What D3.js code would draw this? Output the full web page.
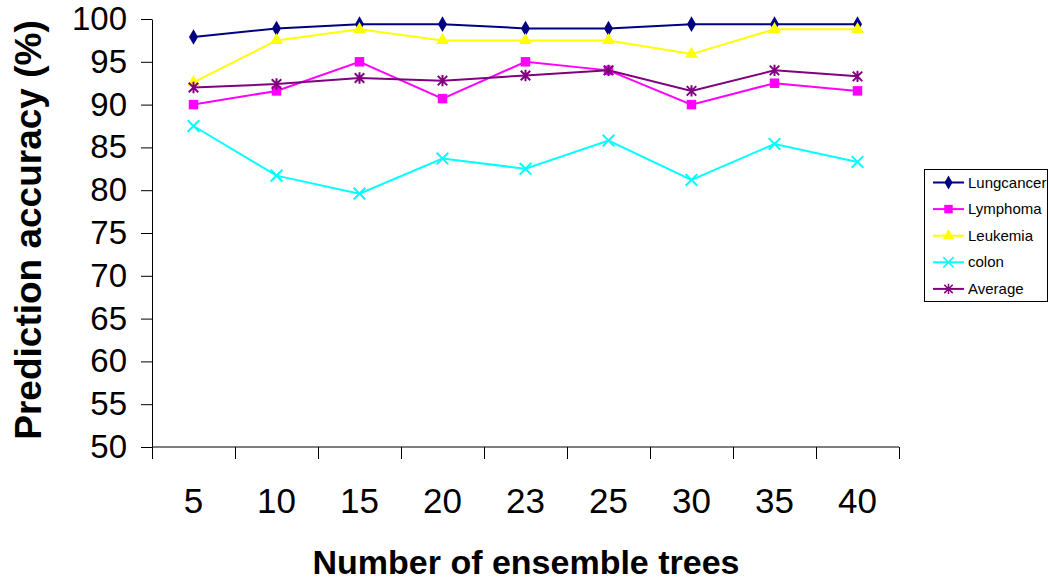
<!DOCTYPE html>
<html>
<head>
<meta charset="utf-8">
<script src="https://cdn.jsdelivr.net/npm/d3@7"></script>
<style>
  html, body { margin: 0; padding: 0; background: #fff; }
  svg { display: block; font-family: "Liberation Sans", Arial, sans-serif; }
</style>
</head>
<body>
<div id="chart"></div>
<script>
const categories = ['5', '10', '15', '20', '23', '25', '30', '35', '40'];
const lungcancer = [97.9, 98.9, 99.4, 99.4, 98.9, 98.9, 99.4, 99.4, 99.4];
const lymphoma = [90.0, 91.6, 95.0, 90.7, 95.0, 94.0, 90.0, 92.5, 91.6];
const leukemia = [92.6, 97.5, 98.8, 97.5, 97.5, 97.5, 95.9, 98.8, 98.8];
const colon = [87.5, 81.7, 79.6, 83.7, 82.5, 85.8, 81.2, 85.4, 83.3];
const average = [92.0, 92.4, 93.1, 92.8, 93.4, 94.0, 91.6, 94.0, 93.3];
const yTicks = [50, 55, 60, 65, 70, 75, 80, 85, 90, 95, 100];

// custom marker: X with a vertical stroke (Excel-style star)
const symbolStar = {
    draw(ctx, size) {
        const r = Math.sqrt(size) / 2;
        ctx.moveTo(-r, -r); ctx.lineTo(r, r);
        ctx.moveTo(-r, r); ctx.lineTo(r, -r);
        ctx.moveTo(0, -r * 1.2); ctx.lineTo(0, r * 1.2);
    }
};

const series = [
    { name: 'Lungcancer', values: lungcancer, color: '#000080', symbol: d3.symbolDiamond, size: 70, filled: true },
    { name: 'Lymphoma', values: lymphoma, color: '#FF00FF', symbol: d3.symbolSquare, size: 90, filled: true },
    { name: 'Leukemia', values: leukemia, color: '#FFFF00', symbol: d3.symbolTriangle, size: 70, filled: true },
    { name: 'colon', values: colon, color: '#00FFFF', symbol: d3.symbolTimes, size: 90, filled: false },
    { name: 'Average', values: average, color: '#800080', symbol: symbolStar, size: 90, filled: false }
];

const W = 1049, H = 581;
const plotL = 152, plotR = 899, plotT = 19, plotB = 447;

const svg = d3.select('#chart').append('svg')
    .attr('width', W).attr('height', H);

const x = d3.scaleBand().domain(categories).range([plotL, plotR]);
const y = d3.scaleLinear().domain([50, 100]).range([plotB, plotT]);

// Y axis
svg.append('g').attr('transform', `translate(${plotL},0)`)
    .call(d3.axisLeft(y).tickValues(yTicks).tickSize(11).tickPadding(14).tickSizeOuter(0))
    .call((g) => g.selectAll('line, path').attr('stroke', '#000'))
    .call((g) => g.selectAll('text').attr('font-size', 33).attr('fill', '#000')
        .attr('font-family', '"Liberation Sans", Arial, sans-serif'));

// X axis: ticks at band boundaries, labels at band centres
const xg = svg.append('g').attr('transform', `translate(0,${plotB})`);
xg.append('line').attr('x1', plotL).attr('x2', plotR).attr('stroke', '#000');
const bounds = categories.map((c) => x(c)).concat([plotR]);
xg.selectAll('line.tick').data(bounds).enter().append('line')
    .attr('class', 'tick')
    .attr('x1', (d) => Math.round(d) + 0.5).attr('x2', (d) => Math.round(d) + 0.5)
    .attr('y1', 0).attr('y2', 12).attr('stroke', '#000');
xg.selectAll('text').data(categories).enter().append('text')
    .attr('x', (d) => x(d) + x.bandwidth() / 2)
    .attr('y', 66)
    .attr('text-anchor', 'middle')
    .attr('font-size', 35)
    .text((d) => d);

// Axis titles
svg.append('text')
    .attr('transform', 'translate(41,230) rotate(-90)')
    .attr('text-anchor', 'middle')
    .attr('font-size', 37).attr('font-weight', 'bold')
    .text('Prediction accuracy (%)');
svg.append('text')
    .attr('x', 526).attr('y', 574)
    .attr('text-anchor', 'middle')
    .attr('font-size', 34).attr('font-weight', 'bold')
    .text('Number of ensemble trees');

// Lines and markers
const line = d3.line()
    .x((d, i) => x(categories[i]) + x.bandwidth() / 2)
    .y((d) => y(d));

series.forEach((s) => {
    svg.append('path').datum(s.values)
        .attr('d', line)
        .attr('fill', 'none')
        .attr('stroke', s.color)
        .attr('stroke-width', 2);
    svg.selectAll(null).data(s.values).enter().append('path')
        .attr('transform', (d, i) => `translate(${x(categories[i]) + x.bandwidth() / 2},${y(d)})`)
        .attr('d', d3.symbol(s.symbol, s.size))
        .attr('fill', s.filled ? s.color : 'none')
        .attr('stroke', s.color)
        .attr('stroke-width', s.filled ? 0 : 2);
});

// Legend
const legend = svg.append('g').attr('transform', 'translate(924,169)');
legend.append('rect')
    .attr('x', 0.5).attr('y', 0.5).attr('width', 123).attr('height', 132)
    .attr('fill', '#fff').attr('stroke', '#000');
const item = legend.selectAll('g.item').data(series).enter().append('g')
    .attr('class', 'item')
    .attr('transform', (d, i) => `translate(0,${13.5 + i * 26.6})`);
item.append('line').attr('x1', 9).attr('x2', 40)
    .attr('stroke', (d) => d.color).attr('stroke-width', 2);
item.append('path')
    .attr('transform', 'translate(24.5,0)')
    .attr('d', (d) => d3.symbol(d.symbol, d.size * 0.8)())
    .attr('fill', (d) => d.filled ? d.color : 'none')
    .attr('stroke', (d) => d.color)
    .attr('stroke-width', (d) => d.filled ? 0 : 1.5);
item.append('text')
    .attr('x', 44).attr('y', 5)
    .attr('font-size', 15)
    .text((d) => d.name);
</script>
</body>
</html>
